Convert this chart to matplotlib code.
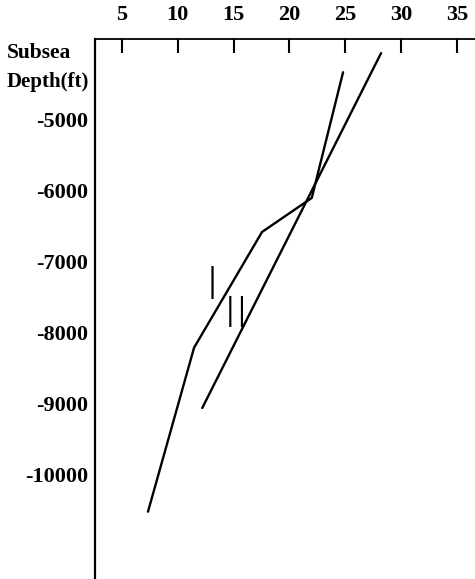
import matplotlib
matplotlib.use("Agg")
import matplotlib.pyplot as plt

# Data
x_ticks = [5, 10, 15, 20, 25, 30, 35]
y_ticks = [-5000, -6000, -7000, -8000, -9000, -10000]
y_tick_labels = ["-5000", "-6000", "-7000", "-8000", "-9000", "-10000"]

line1_x = [24.8, 22.0, 17.55, 11.47, 7.35]
line1_y = [-4330, -6100, -6580, -8210, -10520]

line2_x = [28.2, 12.2]
line2_y = [-4060, -9060]

# curve labels
label_texts = ["I", "II"]
label_x = [13.05, 15.3]
label_y = [-7350, -7740]
label_sizes = [32, 31]

serif = "Liberation Serif"

fig = plt.figure(figsize=(4.75, 5.79), dpi=100)
ax = fig.add_axes([0.2, 0.0, 0.8, 0.9326])

ax.plot(line1_x, line1_y, color="black", lw=1.7, solid_capstyle="round")
ax.plot(line2_x, line2_y, color="black", lw=1.7, solid_capstyle="round")

for t, x, y, s in zip(label_texts, label_x, label_y, label_sizes):
    ax.text(x, y, t, ha="center", va="center", fontsize=s,
            family="DejaVu Sans", fontweight="light")

ax.set_xlim(2.61, 36.6)
ax.set_ylim(-11468, -3862)

ax.spines["right"].set_visible(False)
ax.spines["bottom"].set_visible(False)
ax.spines["top"].set_linewidth(1.3)
ax.spines["left"].set_linewidth(1.6)

ax.xaxis.tick_top()
ax.set_xticks(x_ticks)
ax.set_xticklabels([str(v) for v in x_ticks], family=serif, fontsize=16,
                   fontweight="bold")
ax.tick_params(axis="x", direction="in", length=10, width=1.5, pad=10)

ax.set_yticks(y_ticks)
ax.set_yticklabels(y_tick_labels, family=serif, fontsize=16, fontweight="bold")
ax.tick_params(axis="y", length=0, pad=5)

fig.text(7 / 475, 1 - 53 / 579, "Subsea", family=serif, fontsize=15.5,
         fontweight="bold", ha="left", va="center")
fig.text(7 / 475, 1 - 82 / 579, "Depth(ft)", family=serif, fontsize=15,
         fontweight="bold", ha="left", va="center")

fig.savefig("out.png", dpi=100)
